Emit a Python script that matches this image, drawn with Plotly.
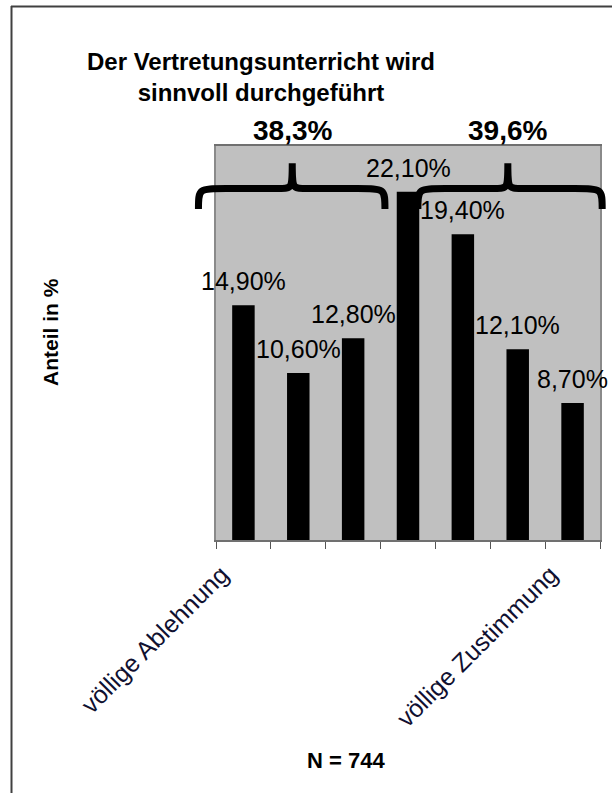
import plotly.graph_objects as go

# ---- data ----
categories = ["völlige Ablehnung", "Stufe 2", "Stufe 3", "Stufe 4", "Stufe 5", "Stufe 6", "völlige Zustimmung"]
tick_text = ["völlige Ablehnung", "", "", "", "", "", "völlige Zustimmung"]
values = [14.9, 10.6, 12.8, 22.1, 19.4, 12.1, 8.7]
value_labels = ["14,90%", "10,60%", "12,80%", "22,10%", "19,40%", "12,10%", "8,70%"]
group_labels = ["38,3%", "39,6%"]
group_centers = [0.89, 4.82]          # category-index positions of group labels / brace tips
group_spans = [(-0.82, 2.58), (3.18, 6.54)]
title_text = "Der Vertretungsunterricht wird<br>sinnvoll durchgeführt"
y_title = "Anteil in %"
n_text = "N = 744"

FONT = "Liberation Sans, Arial, sans-serif"
W, H = 615, 793
ML, MR, MT, MB = 216, 15, 146, 253
Y_MAX = 25
N = len(categories)
PW = W - ML - MR
PH = H - MT - MB

def xpaper(i):
    return (i + 0.5) / N

def ypaper(v):
    return v / Y_MAX

def px2xpaper(px):
    return (px - ML) / PW

def px2ypaper(py):
    return (H - MB - py) / PH

fig = go.Figure()
fig.add_trace(go.Bar(
    x=categories, y=values, width=0.41,
    marker=dict(color="black", line=dict(width=0)),
    hoverinfo="skip",
))

annotations = []
for i, (v, t) in enumerate(zip(values, value_labels)):
    annotations.append(dict(x=xpaper(i), y=ypaper(v), xref="paper", yref="paper", text=t,
                            showarrow=False, yanchor="bottom", xanchor="center", yshift=8,
                            font=dict(family=FONT, size=25, color="black")))
for gx, gt in zip(group_centers, group_labels):
    annotations.append(dict(x=xpaper(gx), y=ypaper(26.0), xref="paper", yref="paper", text=gt,
                            showarrow=False, yanchor="middle", xanchor="center",
                            font=dict(family=FONT, size=28, color="black", weight="bold")))
annotations.append(dict(x=px2xpaper(50), y=px2ypaper(332), xref="paper", yref="paper",
                        xanchor="center", yanchor="middle",
                        text=y_title, textangle=-90, showarrow=False,
                        font=dict(family=FONT, size=21, color="black", weight="bold")))
annotations.append(dict(x=px2xpaper(346), y=px2ypaper(760), xref="paper", yref="paper",
                        xanchor="center", yanchor="middle",
                        text=n_text, showarrow=False,
                        font=dict(family=FONT, size=22, color="black", weight="bold")))

shapes = []
# curly braces
y_low, y_mid, y_top = 21.0, 22.3, 23.9
r1, r2 = 0.5, 0.25
for (a, b), c in zip(group_spans, group_centers):
    X = xpaper
    Y = ypaper
    path = (f"M {X(a)},{Y(y_low)} C {X(a)},{Y(y_mid)} {X(a)},{Y(y_mid)} {X(a + r1)},{Y(y_mid)} "
            f"L {X(c - r2)},{Y(y_mid)} C {X(c)},{Y(y_mid)} {X(c)},{Y(y_mid)} {X(c)},{Y(y_top)} "
            f"C {X(c)},{Y(y_mid)} {X(c)},{Y(y_mid)} {X(c + r2)},{Y(y_mid)} "
            f"L {X(b - r1)},{Y(y_mid)} C {X(b)},{Y(y_mid)} {X(b)},{Y(y_mid)} {X(b)},{Y(y_low)}")
    shapes.append(dict(type="path", path=path, xref="paper", yref="paper",
                       line=dict(color="black", width=7), layer="above"))
# outer chart border: only top and left edges are inside the picture
shapes.append(dict(type="line", xref="paper", yref="paper",
                   x0=px2xpaper(11), x1=px2xpaper(612), y0=px2ypaper(6.5), y1=px2ypaper(6.5),
                   line=dict(color="#404040", width=2), layer="above"))
shapes.append(dict(type="line", xref="paper", yref="paper",
                   x0=px2xpaper(11.5), x1=px2xpaper(11.5), y0=px2ypaper(6), y1=px2ypaper(793),
                   line=dict(color="#404040", width=2), layer="above"))

fig.update_layout(
    width=W, height=H,
    margin=dict(l=ML, r=MR, t=MT, b=MB, pad=0),
    paper_bgcolor="white", plot_bgcolor="#C0C0C0",
    showlegend=False,
    title=dict(text=title_text, x=261 / W, xref="container", xanchor="center",
               y=1 - 70 / H, yref="container", yanchor="top",
               font=dict(family=FONT, size=24, color="black", weight="bold")),
    xaxis=dict(type="category", tickmode="array", tickvals=categories, ticktext=tick_text,
               tickson="boundaries", ticks="outside", ticklen=7, tickcolor="#555555",
               tickangle=-45, ticklabelshift=-22, ticklabelstandoff=8,
               showline=True, linecolor="#707070", linewidth=2, mirror=True,
               showgrid=False, range=[-0.5, N - 0.5],
               tickfont=dict(family=FONT, size=25, color="#101030")),
    yaxis=dict(range=[0, Y_MAX], showticklabels=False, ticks="", showgrid=False,
               zeroline=False, showline=True, linecolor="#8a8a8a", linewidth=2, mirror=True),
    annotations=annotations,
    shapes=shapes,
)

fig.write_html(
    "out.html",
    post_script="document.documentElement.style.overflow='hidden';document.body.style.overflow='hidden';",
)
